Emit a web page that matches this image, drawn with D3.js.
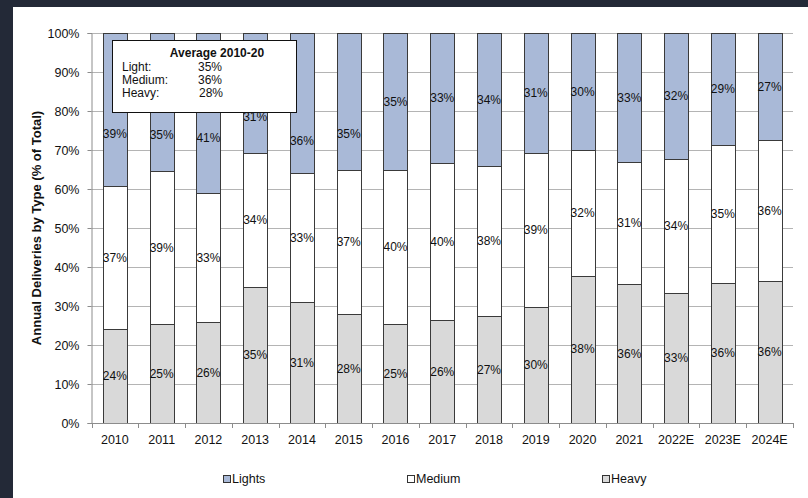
<!DOCTYPE html>
<html>
<head>
<meta charset="utf-8">
<script src="https://cdn.jsdelivr.net/npm/d3@7"></script>
<style>
  html, body { margin: 0; padding: 0; background: #232937; }
  svg { display: block; }
  text { font-family: Arial, "Liberation Sans", sans-serif; }
</style>
</head>
<body>
<div id="chart"></div>
<script>
var years = ["2010", "2011", "2012", "2013", "2014", "2015", "2016", "2017", "2018", "2019", "2020", "2021", "2022E", "2023E", "2024E"];
var heavy  = [24.0, 25.3, 25.8, 34.9, 31.1, 27.9, 25.3, 26.3, 27.4, 29.8, 37.8, 35.6, 33.4, 36.0, 36.4];
var medium = [36.7, 39.4, 33.1, 34.4, 32.9, 37.0, 39.6, 40.4, 38.4, 39.4, 32.3, 31.4, 34.4, 35.2, 36.2];
var lights = [39.3, 35.3, 41.1, 30.7, 36.0, 35.1, 35.1, 33.3, 34.2, 30.8, 29.9, 33.0, 32.2, 28.8, 27.4];
// where the Lights label sits (in % of total) when moved out from under the note box
var lightsLabelAt = [74.1, 73.8, 73.1, 78.5, 72.3, 74.1, null, null, null, null, null, null, null, null, null];
var seriesNames = ["Heavy", "Medium", "Lights"];
var yTicks = [0, 10, 20, 30, 40, 50, 60, 70, 80, 90, 100];
var avgTitle = "Average 2010-20";
var avgLabels = ["Light:", "Medium:", "Heavy:"];
var avgValues = [35, 36, 28];

var colors = { Lights: "#a9b9d7", Medium: "#ffffff", Heavy: "#d9d9d9" };

var width = 808, height = 498;
var svg = d3.select("#chart").append("svg")
    .attr("width", width)
    .attr("height", height);

// page background (dark frame at top/left)
svg.append("rect").attr("x", 0).attr("y", 0).attr("width", width).attr("height", height).attr("fill", "#232937");
svg.append("rect").attr("x", 13).attr("y", 7).attr("width", width - 13).attr("height", height - 7).attr("fill", "#ffffff");

var plotLeft = 91.5, plotRight = 793, plotTop = 33, plotBottom = 423;

var x = d3.scaleBand().domain(years).range([plotLeft, plotRight])
    .paddingInner(0.487).paddingOuter(0.2435);
var y = d3.scaleLinear().domain([0, 100]).range([plotBottom, plotTop]);

// gridlines
svg.append("g").selectAll("line").data(yTicks.slice(1)).join("line")
    .attr("x1", plotLeft).attr("x2", plotRight)
    .attr("y1", function (d) { return Math.round(y(d)) + 0.5; })
    .attr("y2", function (d) { return Math.round(y(d)) + 0.5; })
    .attr("stroke", "#b4b4b4").attr("stroke-width", 1);

// stack data
var rows = years.map(function (yr, i) {
    return { year: yr, idx: i, Heavy: heavy[i], Medium: medium[i], Lights: lights[i] };
});
var stack = d3.stack().keys(seriesNames)(rows);

var groups = svg.append("g").selectAll("g").data(stack).join("g")
    .attr("fill", function (d) { return colors[d.key]; });

groups.selectAll("rect").data(function (d) { return d; }).join("rect")
    .attr("x", function (d) { return Math.round(x(d.data.year)) + 0.5; })
    .attr("width", Math.round(x.bandwidth()))
    .attr("y", function (d) { return Math.round(y(d[1])) + 0.5; })
    .attr("height", function (d) { return Math.round(y(d[0])) - Math.round(y(d[1])); })
    .attr("stroke", "#3a3a3a").attr("stroke-width", 1);

// value labels
groups.selectAll("text").data(function (d) { return d.map(function (p) { return { p: p, key: d.key }; }); }).join("text")
    .attr("x", function (d) { return x(d.p.data.year) + x.bandwidth() / 2; })
    .attr("y", function (d) {
        var at = (d.p[0] + d.p[1]) / 2;
        if (d.key == "Lights" && lightsLabelAt[d.p.data.idx] != null) at = lightsLabelAt[d.p.data.idx];
        return y(at);
    })
    .attr("dy", "0.35em")
    .attr("text-anchor", "middle")
    .attr("font-size", "12px")
    .attr("fill", "#111")
    .text(function (d) { return Math.round(d.p.data[d.key]) + "%"; });

// y axis
var yAxis = svg.append("g").attr("transform", "translate(" + plotLeft + ",0)")
    .call(d3.axisLeft(y).tickValues(yTicks).tickSize(4).tickPadding(8).tickFormat(function (d) { return d + "%"; }));
yAxis.select(".domain").attr("stroke", "#8c8c8c");
yAxis.selectAll(".tick line").attr("stroke", "#8c8c8c");
yAxis.selectAll("text").attr("font-size", "12.5px").attr("fill", "#111").attr("font-family", "Arial, 'Liberation Sans', sans-serif");

// x axis
var step = x.step();
var xAxis = svg.append("g").attr("transform", "translate(0," + plotBottom + ")");
xAxis.append("line").attr("x1", plotLeft).attr("x2", plotRight).attr("y1", 0.5).attr("y2", 0.5).attr("stroke", "#8c8c8c");
xAxis.selectAll("line.tk").data(d3.range(years.length + 1)).join("line")
    .attr("class", "tk")
    .attr("x1", function (i) { return Math.round(plotLeft + i * step) + 0.5; })
    .attr("x2", function (i) { return Math.round(plotLeft + i * step) + 0.5; })
    .attr("y1", 0).attr("y2", 5).attr("stroke", "#8c8c8c");
xAxis.selectAll("text").data(years).join("text")
    .attr("x", function (d) { return x(d) + x.bandwidth() / 2; })
    .attr("y", 21)
    .attr("text-anchor", "middle")
    .attr("font-size", "12.5px")
    .attr("fill", "#111")
    .text(function (d) { return d; });

// y axis title
svg.append("text")
    .attr("transform", "translate(41," + ((plotTop + plotBottom) / 2) + ") rotate(-90)")
    .attr("text-anchor", "middle")
    .attr("font-size", "13px")
    .attr("font-weight", "bold")
    .attr("fill", "#111")
    .text("Annual Deliveries by Type (% of Total)");

// legend
var legendItems = [
    { name: "Lights", x: 223 },
    { name: "Medium", x: 407 },
    { name: "Heavy", x: 602 }
];
var lg = svg.append("g").selectAll("g").data(legendItems).join("g")
    .attr("transform", function (d) { return "translate(" + d.x + ",475)"; });
lg.append("rect").attr("x", 0.5).attr("y", 0.5).attr("width", 7).attr("height", 7)
    .attr("fill", function (d) { return colors[d.name]; })
    .attr("stroke", "#333");
lg.append("text").attr("x", 9).attr("y", 4).attr("dy", "0.35em")
    .attr("font-size", "12.5px").attr("fill", "#111")
    .text(function (d) { return d.name; });

// annotation box
var box = svg.append("g");
box.append("rect").attr("x", 112.5).attr("y", 40.5).attr("width", 184).attr("height", 72)
    .attr("fill", "#fff").attr("stroke", "#111").attr("stroke-width", 1);
box.append("text").attr("x", 217).attr("y", 56.5).attr("text-anchor", "middle")
    .attr("font-size", "12px").attr("font-weight", "bold").attr("fill", "#111")
    .text(avgTitle);
avgLabels.forEach(function (lab, i) {
    box.append("text").attr("x", 122).attr("y", 71 + i * 12.8)
        .attr("font-size", "12px").attr("fill", "#111").text(lab);
    box.append("text").attr("x", 198 + (i === 2 ? 1 : 0)).attr("y", 71 + i * 12.8)
        .attr("font-size", "12px").attr("fill", "#111").text(avgValues[i] + "%");
});
</script>
</body>
</html>
